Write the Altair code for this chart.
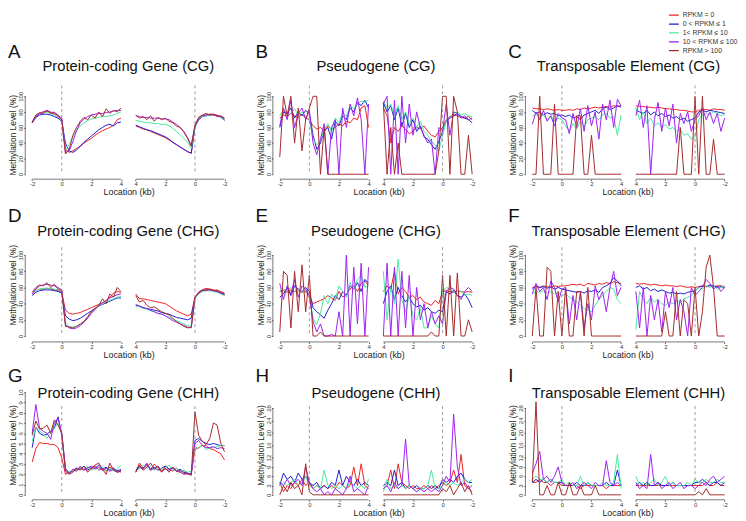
import altair as alt
import pandas as pd

FONT = "Liberation Sans"
SERIES = ["RPKM = 0", "0 < RPKM ≤ 1", "1< RPKM ≤ 10", "10 < RPKM ≤ 100", "RPKM > 100"]
COLORS = ["#EE2222", "#1C1CD2", "#46EA9C", "#A020F0", "#A52A2A"]

# x grid: segment 1 = -2..4 kb (pos 0..6), segment 2 = 4..0..-2 kb (pos 7..13)
SEG1_POS = [i * 0.25 for i in range(25)]
SEG2_POS = [7 + i * 0.25 for i in range(25)]
X_TICKS = [0, 2, 4, 6, 7, 9, 11, 13]

# ---------------- A: Protein-coding Gene (CG) ----------------
A_red = [66,74,78,80,81,79,77,74,70, 32,28,30,33,36,40,43,46,50,53,56,58,60,63,70,72,
         62,60,58,57,55,53,51,49,47,44,41,38,35,32,29,27,62, 70,74,76,77,77,76,74,71]
A_blue = [66,73,76,77,77,76,74,72,68, 40,30,28,31,36,41,45,49,53,57,60,63,64,62,66,67,
          63,61,59,57,56,54,52,50,48,45,41,38,35,32,29,27,60, 70,74,75,76,76,75,73,69]
A_green = [67,75,78,79,79,78,76,74,70, 32,38,48,56,62,66,69,71,72,73,74,74,75,76,78,80,
           69,68,67,66,66,65,65,64,64,62,59,55,51,46,41,33,60, 71,74,75,76,76,75,73,70]
A_purple = [66,74,78,80,82,80,78,76,72, 28,30,42,56,66,71,74,76,77,78,78,79,80,81,82,82,
            75,74,73,73,72,72,72,71,71,70,67,64,60,55,47,37,62, 72,75,76,77,76,75,74,71]
A_brown = [67,76,79,78,82,78,80,75,70, 26,32,50,60,68,73,70,76,72,80,74,84,78,82,80,85,
           76,72,74,70,75,68,73,70,72,68,66,62,60,54,46,36,63, 73,76,78,76,77,74,75,72]

# ---------------- B: Pseudogene (CG) ----------------
B_red = [72,76,74,78,75,73,77,72,70, 62,58,60,55,62,58,60,65,62,68,66,72,70,85,88,60,
         85,75,40,60,55,62,58,52,55,60,58,62,55,50,48,55,60, 70,74,76,75,73,72,74,70]
B_blue = [60,80,78,85,72,80,75,82,78, 50,32,40,55,60,45,68,62,75,70,85,80,92,88,95,85,
          92,80,88,70,85,62,78,60,70,55,62,48,45,38,32,42,55, 68,72,75,78,74,72,70,66]
B_green = [75,82,80,78,84,76,80,74,70, 45,38,42,58,65,55,72,66,80,74,88,84,90,94,92,96,
           94,85,90,75,88,70,80,65,72,60,68,55,50,42,38,30,50, 70,74,78,80,76,78,75,74]
B_purple = [62,85,70,95,60,78,85,70,82, 40,25,45,65,0,60,70,0,85,60,90,75,98,70,0,90,
            90,100,0,95,0,100,40,90,50,80,60,50,40,45,0,60,55, 90,50,80,78,72,75,70,72]
B_brown = [22,100,75,100,40,85,30,70,85, 100,100,0,60,0,0,0,0,0,0,0,0,0,0,0,0,
           92,0,60,0,40,0,0,0,0,0,0,0,0,0,0,30,100, 100,0,100,80,0,0,50,0]

# ---------------- C: Transposable Element (CG) ----------------
C_red = [85,84,84,83,84,83,82,83,82, 82,83,82,84,83,85,84,85,86,85,86,87,86,88,87,88,
         88,87,87,86,86,85,86,85,84,84,83,83,82,82,81,80,80, 82,83,83,82,84,83,83,82]
C_blue = [82,78,80,76,79,77,78,75,76, 74,76,72,74,70,76,78,80,82,78,84,86,83,85,88,86,
          82,80,78,82,76,80,75,78,74,76,72,74,70,72,68,70,72, 80,82,80,82,81,80,79,78]
C_green = [74,78,72,76,70,75,68,72,70, 62,55,65,58,68,60,70,72,74,70,76,78,72,74,50,76,
           86,70,80,65,72,62,66,60,64,58,60,55,58,50,52,45,48, 70,76,78,76,80,78,75,77]
C_purple = [64,80,70,82,68,75,62,78,72, 70,52,78,60,84,55,88,62,80,45,90,70,95,60,96,88,
            75,95,60,88,0,70,92,55,85,62,90,40,78,65,80,55,70, 75,85,70,80,65,78,55,72]
C_brown = [0,0,100,0,0,0,90,0,0, 0,0,0,75,75,0,0,50,0,0,0,0,0,0,0,0,
           0,0,0,0,0,0,0,0,0,0,0,0,60,0,0,0,100, 0,100,0,0,45,0,0,0]

# ---------------- D: Protein-coding Gene (CHG) ----------------
D_red = [52,56,58,58,59,58,57,56,54, 32,28,27,28,29,31,33,35,37,39,41,44,48,53,55,54,
         52,46,46,45,44,43,42,41,40,37,34,31,29,27,25,27,48, 54,57,59,58,57,56,55,53]
D_blue = [50,54,56,57,57,57,56,55,53, 25,21,19,20,22,25,28,31,34,37,39,41,43,45,47,47,
          38,37,35,34,33,32,31,29,28,27,25,23,22,21,20,22,48, 53,56,57,57,56,55,53,51]
D_green = [52,56,58,59,59,59,58,57,55, 16,12,11,12,14,18,23,28,33,37,40,42,44,46,48,49,
           37,36,34,33,31,30,28,27,25,23,21,19,17,15,13,12,47, 52,55,56,56,55,54,52,50]
D_purple = [52,58,62,63,64,63,62,60,57, 14,10,9,10,13,17,22,28,33,38,41,44,47,49,51,52,
            39,37,35,34,32,30,28,27,25,22,19,17,15,13,11,10,48, 53,56,57,57,56,55,53,51]
D_brown = [54,60,63,62,66,60,64,58,56, 12,11,10,12,15,18,24,30,34,38,46,40,52,48,60,55,
           50,42,44,38,35,36,33,30,28,26,22,18,15,12,10,11,47, 54,57,56,58,56,57,54,52]

# ---------------- E: Pseudogene (CHG) ----------------
E_red = [55,56,54,57,55,56,54,55,48, 40,42,44,46,50,47,44,55,48,52,58,62,55,65,68,62,
         55,62,58,80,52,60,55,48,50,45,48,42,40,38,44,40,55, 56,55,54,56,55,54,55,54]
E_blue = [48,52,60,50,62,58,55,60,55, 35,30,26,22,32,40,50,45,55,50,62,58,66,55,70,65,
          40,55,62,45,60,50,42,48,40,36,38,32,35,30,28,32,30, 55,52,56,50,48,52,45,35]
E_green = [55,58,56,60,55,58,54,57,50, 22,14,28,50,40,52,45,62,55,48,66,58,70,75,60,62,
           80,20,60,40,95,45,30,50,25,20,35,10,10,25,15,10,55, 60,58,55,52,56,50,52,50]
E_purple = [65,45,62,52,70,48,62,58,50, 18,5,15,0,0,2,0,30,0,100,0,85,15,90,0,85,
            0,90,0,85,0,80,10,75,0,60,20,40,10,30,15,25,15, 55,60,58,50,45,55,60,55]
E_brown = [5,80,75,10,80,30,88,30,75, 0,0,5,0,0,0,0,0,0,0,0,0,0,0,0,0,
           0,0,0,0,0,0,0,0,0,0,0,0,0,5,0,0,75, 0,75,0,78,0,0,20,5]

# ---------------- F: Transposable Element (CHG) ----------------
F_red = [60,61,60,62,61,60,62,61,62, 62,63,64,63,64,62,65,64,63,65,64,66,65,67,66,65,
         65,64,65,64,63,64,63,62,63,62,62,61,62,61,60,61,60, 61,62,61,62,61,62,62,61]
F_blue = [58,62,60,61,59,61,58,60,58, 57,56,55,54,55,53,56,55,57,54,60,62,65,72,68,62,
          60,62,58,60,56,58,55,57,55,53,54,52,53,52,54,55,56, 60,62,61,63,62,60,61,60]
F_green = [52,55,54,56,53,55,52,54,50, 52,48,45,42,38,34,32,30,38,45,50,55,60,58,45,40,
           8,55,45,40,48,42,45,40,38,42,40,44,42,46,48,50,55, 60,58,62,60,62,58,60,62]
F_purple = [52,65,55,60,45,68,60,42,58, 60,15,50,20,55,10,40,20,62,45,55,30,60,80,50,60,
            55,10,60,0,50,20,45,5,55,35,60,20,45,30,0,60,50, 55,60,70,65,58,62,55,60]
F_brown = [0,60,0,0,85,80,0,55,0, 60,0,0,55,55,0,60,0,0,0,0,0,0,0,0,0,
           0,0,0,0,0,0,0,0,30,0,0,55,0,45,40,0,60, 0,30,85,100,60,0,0,0]

# ---------------- G: Protein-coding Gene (CHH) ----------------
G_red = [3.2,4.5,5.1,5.0,5.0,4.9,4.9,4.6,3.6, 2.0,2.2,2.3,2.5,2.6,2.4,2.7,2.5,2.8,2.4,2.6,2.3,2.7,2.5,2.4,2.2,
         2.2,3.1,2.6,2.9,2.4,3.0,2.6,2.2,2.8,2.5,2.3,2.6,2.2,2.4,2.1,2.0,4.4, 4.6,4.8,4.8,4.5,4.4,4.2,4.0,3.4]
G_blue = [4.6,6.6,6.0,5.8,5.9,6.2,6.5,7.6,5.8, 2.4,2.1,2.4,2.6,2.5,2.8,2.4,2.7,2.6,2.9,2.5,2.7,2.4,2.6,2.3,2.5,
          2.4,2.8,2.6,3.0,2.5,2.7,2.4,2.6,2.8,2.5,2.6,2.3,2.5,2.2,2.1,2.0,5.3, 5.5,5.2,5.0,4.9,5.0,4.9,4.8,4.8]
G_green = [5.2,6.6,6.2,6.0,5.5,6.0,6.5,7.0,6.0, 2.5,2.2,2.4,2.3,2.7,2.5,2.8,2.4,2.6,2.5,2.7,2.4,2.6,2.3,2.5,2.9,
           2.6,2.5,2.9,2.6,2.8,2.4,2.7,2.5,2.6,2.9,2.4,2.6,2.3,2.4,2.2,2.3,4.7, 4.5,4.9,4.4,4.6,4.6,4.7,4.8,4.8]
G_purple = [6.0,8.8,6.5,6.2,6.0,5.4,7.0,7.5,6.0, 2.6,2.1,2.5,2.3,2.8,2.4,2.6,2.8,2.5,2.7,2.4,2.6,2.3,2.5,2.2,2.4,
            2.3,2.7,2.5,3.1,2.4,2.6,2.8,2.3,2.5,2.4,2.7,2.3,2.4,2.1,2.0,2.1,5.0, 5.3,4.8,4.6,4.6,4.7,4.5,4.6,4.5]
G_brown = [5.8,7.2,6.4,6.5,6.8,6.0,7.3,6.8,6.0, 2.3,2.0,2.2,2.6,2.4,2.8,2.2,2.6,2.9,3.1,2.5,2.0,3.1,2.4,2.2,2.3,
           2.2,2.9,2.4,2.7,3.1,2.5,2.8,2.3,2.6,2.2,2.7,2.3,2.2,2.0,2.1,1.9,8.1, 5.8,5.2,4.9,5.5,7.0,6.8,5.0,4.2]

# ---------------- H: Pseudogene (CHH) ----------------
H_red = [4,1,3,2,4,3,5,3,4, 2,3,2,3,2,3,2,4,3,2,3,9,3,10,3,2,
         2,3,8,2,10,4,3,2,3,2,2,3,2,3,2,3,4, 3,4,8,4,13,3,2,1]
H_blue = [3,7,5,6,4,7,5,6,4, 3,4,2,3,2,4,3,8,3,6,4,3,5,3,4,3,
          3,4,3,8,3,4,2,3,2,3,2,2,3,2,3,2,5, 4,5,4,6,7,5,4,4]
H_green = [3,4,3,4,5,3,4,6,3, 2,3,2,8,3,2,3,2,3,2,4,3,2,3,2,5,
           1,5,2,3,2,3,2,3,2,1,2,2,3,8,2,2,3, 4,3,4,3,4,5,4,5]
H_purple = [4,3,5,3,4,5,3,9,4, 2,1,2,0,1,0,2,1,0,2,6,1,2,1,0,3,
            2,3,1,4,2,3,18,3,2,1,2,1,2,1,2,1,3, 6,4,26,9,3,4,2,3]
H_brown = [0,3,1,4,2,3,0,10,1, 0,0,0,0,0,0,0,0,0,0,0,0,0,0,0,0,
           0,0,0,0,0,0,0,0,0,0,0,0,0,0,0,0,2, 1,3,0,2,4,1,3,0]

# ---------------- I: Transposable Element (CHH) ----------------
I_red = [4,4,5,4,4,3,4,4,3, 3,3,3,3,2,3,3,3,3,3,3,2,3,3,3,3,
         3,3,3,3,3,3,3,3,3,3,3,3,3,3,3,3,3, 3,3,4,3,3,4,3,3]
I_blue = [4,5,4,5,4,5,4,4,4, 3,3,3,4,3,3,4,3,3,3,3,4,3,3,8,3,
          3,4,3,4,3,3,4,3,3,3,4,3,3,3,3,3,4, 4,5,4,3,4,4,3,4]
I_green = [5,6,5,5,4,5,4,4,5, 3,4,3,3,6,3,4,3,3,3,4,3,3,4,13,2,
           6,3,4,3,4,5,3,4,6,3,4,3,3,3,4,3,5, 4,4,5,4,4,5,4,4]
I_purple = [7,10,14,5,6,4,6,9,4, 3,3,4,2,3,4,3,2,4,3,3,11,4,3,4,3,
            4,2,3,2,13,3,4,2,3,4,2,3,4,2,3,3,2, 3,4,3,5,6,4,5,6]
I_brown = [4,30,0,0,3,0,0,4,0, 0,4,0,0,3,0,0,0,3,0,0,0,0,0,0,0,
           0,0,0,0,0,0,0,0,0,0,0,0,0,0,0,0,0, 1,0,2,0,0,0,0,0]

TICKS_100 = [0, 20, 40, 60, 80, 100]
TICKS_G = [0, 1, 2, 3, 4, 5, 6, 7, 8, 9, 10]
TICKS_HI = [0, 3, 6, 9, 12, 16, 20, 24, 28]

PANELS = [
    ("A", "Protein-coding Gene (CG)", [A_red, A_blue, A_green, A_purple, A_brown], 0, 0, TICKS_100),
    ("B", "Pseudogene (CG)", [B_red, B_blue, B_green, B_purple, B_brown], 1, 0, TICKS_100),
    ("C", "Transposable Element (CG)", [C_red, C_blue, C_green, C_purple, C_brown], 2, 0, TICKS_100),
    ("D", "Protein-coding Gene (CHG)", [D_red, D_blue, D_green, D_purple, D_brown], 0, 1, TICKS_100),
    ("E", "Pseudogene (CHG)", [E_red, E_blue, E_green, E_purple, E_brown], 1, 1, TICKS_100),
    ("F", "Transposable Element (CHG)", [F_red, F_blue, F_green, F_purple, F_brown], 2, 1, TICKS_100),
    ("G", "Protein-coding Gene (CHH)", [G_red, G_blue, G_green, G_purple, G_brown], 0, 2, TICKS_G),
    ("H", "Pseudogene (CHH)", [H_red, H_blue, H_green, H_purple, H_brown], 1, 2, TICKS_HI),
    ("I", "Transposable Element (CHH)", [I_red, I_blue, I_green, I_purple, I_brown], 2, 2, TICKS_HI),
]

COL_W = [204.6, 209.4, 202]
COL_XMAX = [13.34, 13.66, 13.17]
ROW_H = [90, 116, 111]
ROW_YDOM = {
    "A": [-6.33, 107.6], "B": [-6.33, 107.6], "C": [-6.33, 107.6],
    "D": [-7.32, 134.1], "E": [-7.32, 134.1], "F": [-7.32, 134.1],
    "G": [-0.48, 10.19], "H": [-1.59, 33.7], "I": [-1.59, 33.7],
}
# relative pixel placements of annotations per row
ROW_TXT = [
    {"letter_y": -39, "title_y": -25, "dash_top": -5, "dash_bot": 85},
    {"letter_y": -12, "title_y": 4, "dash_top": 20, "dash_bot": 110},
    {"letter_y": -14, "title_y": 3, "dash_top": 16, "dash_bot": 106},
]

LEGEND = alt.Legend(title=None, orient="none", legendX=649, legendY=-80,
                    symbolType="stroke", symbolSize=100, symbolStrokeWidth=1.3,
                    labelFontSize=7, labelFont=FONT, labelColor="#333",
                    clipHeight=7.5, rowPadding=0, labelOffset=3)


def panel_frame(arrs):
    rows = []
    for s, arr in zip(SERIES, arrs):
        for seg, poss, vals in (("a", SEG1_POS, arr[:25]), ("b", SEG2_POS, arr[25:])):
            for p, v in zip(poss, vals):
                rows.append({"series": s, "seg": seg, "pos": p, "value": v})
    return pd.DataFrame(rows)


def make_panel(letter, title, arrs, col, row, yticks):
    w, h = COL_W[col], ROW_H[row]
    tr = ROW_TXT[row]
    xs = alt.Scale(domain=[-0.3, COL_XMAX[col]], nice=False, zero=False)
    ys = alt.Scale(domain=ROW_YDOM[letter], nice=False, zero=False)
    xaxis = alt.Axis(values=X_TICKS,
                     labelExpr="datum.value <= 6 ? '' + (datum.value - 2) : '' + (11 - datum.value)",
                     title="Location (kb)", domain=False, grid=False, tickSize=1.5,
                     labelPadding=0, labelFontSize=6, titleFontSize=9, titlePadding=1,
                     labelFlush=False, labelOverlap=False, labelSeparation=0, labelBound=False)
    yaxis = alt.Axis(values=yticks, title="Methylation Level (%)", domain=False, grid=False,
                     offset=2.5, tickSize=1.5, labelPadding=0, labelFontSize=6,
                     labelAngle=270, labelAlign="center", labelBaseline="bottom",
                     titleFontSize=8.5, titlePadding=0.5, labelOverlap=False,
                     labelSeparation=0, labelBound=False, labelFlush=False)
    df = panel_frame(arrs)
    lines = alt.Chart(df).mark_line(strokeWidth=1).encode(
        x=alt.X("pos:Q", scale=xs, axis=xaxis),
        y=alt.Y("value:Q", scale=ys, axis=yaxis),
        color=alt.Color("series:N", scale=alt.Scale(domain=SERIES, range=COLORS), legend=LEGEND),
        detail="seg:N",
    )
    dash = alt.Chart(pd.DataFrame({"pos": [2, 11]})).mark_rule(
        strokeDash=[3, 3], color="#808080", strokeWidth=0.8).encode(
        x=alt.X("pos:Q", scale=xs, axis=xaxis), y=alt.value(tr["dash_top"]), y2=alt.value(tr["dash_bot"]))
    xline = alt.Chart(pd.DataFrame({"pos": [0, 7], "x1": [6, 13]})).mark_rule(
        color="#555", strokeWidth=0.8).encode(
        x=alt.X("pos:Q", scale=xs, axis=xaxis), x2="x1:Q", y=alt.value(h))
    yline = alt.Chart(pd.DataFrame({"value": [0], "y1": [yticks[-1]]})).mark_rule(
        color="#555", strokeWidth=0.8).encode(
        x=alt.value(-2.5), y=alt.Y("value:Q", scale=ys, axis=yaxis), y2="y1:Q")
    ttl = alt.Chart(pd.DataFrame({"t": [title]})).mark_text(
        fontSize=15, font=FONT, align="center", baseline="middle", color="#111").encode(
        text="t:N", x=alt.value(102), y=alt.value(tr["title_y"]))
    let = alt.Chart(pd.DataFrame({"t": [letter]})).mark_text(
        fontSize=19, font=FONT, align="left", baseline="middle", color="#111").encode(
        text="t:N", x=alt.value(-20), y=alt.value(tr["letter_y"]))
    return alt.layer(lines, dash, xline, yline, ttl, let).properties(width=w, height=h)


panels = [make_panel(*p) for p in PANELS]

chart = alt.concat(*panels, columns=3, spacing={"row": 49, "column": 46},
                   bounds="flush", align="each", padding=0).configure_view(
    stroke=None).configure_axis(
    labelFont=FONT, titleFont=FONT, labelColor="#333", titleColor="#222",
    tickColor="#555", titleFontWeight="normal", labelOverlap=False)

chart.save("out.html", embed_options={"renderer": "svg", "actions": False})
